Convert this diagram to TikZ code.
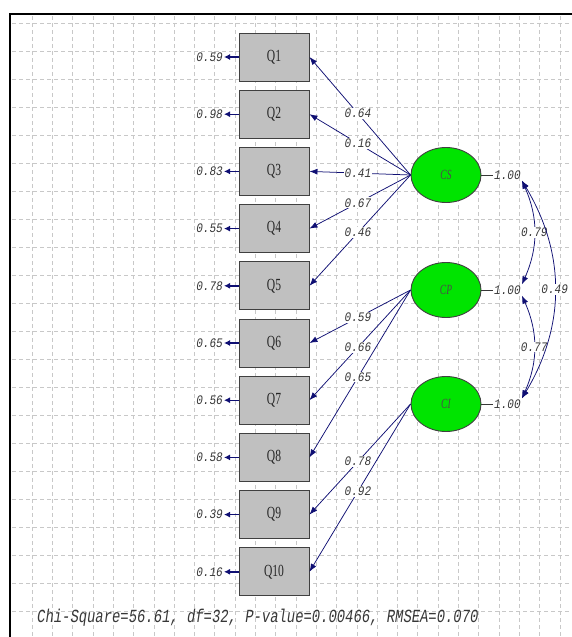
\documentclass[tikz,border=0pt]{standalone}
\usepackage{fontspec}
\newfontfamily\lisfont[FakeStretch=0.85]{Liberation Mono}
\newfontfamily\chifont[FakeStretch=0.75]{Liberation Mono}
\newfontfamily\qfont[FakeStretch=0.68]{Liberation Serif}
\usepackage{tikz}
\usetikzlibrary{arrows.meta,shapes.geometric}

\definecolor{semnavy}{RGB}{15,15,115}
\definecolor{semgreen}{RGB}{0,228,0}
\definecolor{sembox}{RGB}{192,192,192}
\definecolor{semgrid}{RGB}{200,200,200}
\definecolor{semtext}{RGB}{55,55,55}

\tikzset{
  gridline/.style={draw=semgrid, line width=0.6pt, dash pattern=on 4pt off 3pt},
  obsbox/.style={draw=black!75, fill=sembox, line width=0.9pt,
    minimum width=70pt, minimum height=48pt, inner sep=0pt,
    font=\qfont\fontsize{17}{17}\selectfont, text=black!85},
  latent/.style={ellipse, draw=black!75, fill=semgreen, line width=0.9pt,
    minimum width=70pt, minimum height=55pt, inner sep=0pt,
    font=\qfont\itshape\fontsize{14}{14}\selectfont, text=black!70},
  valtext/.style={font=\lisfont\itshape\fontsize{13}{13}\selectfont,
    text=semtext, inner sep=1pt},
  onpath/.style={valtext, fill=white},
  loadarrow/.style={draw=semnavy, line width=0.75pt,
    -{Latex[length=8pt, width=6pt]}},
  errarrow/.style={draw=semnavy, line width=1.4pt,
    -{Latex[length=6pt, width=6pt]}},
  corrarrow/.style={draw=semnavy, line width=0.75pt,
    {Latex[length=8pt, width=6pt]}-{Latex[length=8pt, width=6pt]}}
}

\begin{document}
\begin{tikzpicture}[x=1pt,y=-1pt]

\useasboundingbox (0,0) rectangle (572,637);

% grid
\foreach \gy in {0,...,21}
  \draw[gridline] (12,{23+28*\gy}) -- (572,{23+28*\gy});
\foreach \gx in {0,...,26}
  \draw[gridline] ({32+20.3*\gx},16) -- ({32+20.3*\gx},637);

% frame
\draw[line width=2.5pt] (10,637) -- (10,14) -- (572,14);

% observed items and error variances
\foreach \i/\e in {1/0.59,2/0.98,3/0.83,4/0.55,5/0.78,6/0.65,7/0.56,8/0.58,9/0.39,10/0.16}
{
  \node[obsbox] (q\i) at (274,{57+57.2*(\i-1)}) {Q\i};
  \node[valtext, anchor=east] (e\i) at (224,{57+57.2*(\i-1)}) {\e};
  \draw[errarrow] (q\i.west) -- (e\i.east);
}

% latent factors
\node[latent] (cs) at (446,175) {CS};
\node[latent] (cp) at (446,290) {CP};
\node[latent] (ci) at (446,404) {CI};

% loadings
\draw[loadarrow] (cs.west) -- node[onpath, pos=0.52] {0.64} (q1.east);
\draw[loadarrow] (cs.west) -- node[onpath, pos=0.52] {0.16} (q2.east);
\draw[loadarrow] (cs.west) -- node[onpath, pos=0.52] {0.41} (q3.east);
\draw[loadarrow] (cs.west) -- node[onpath, pos=0.52] {0.67} (q4.east);
\draw[loadarrow] (cs.west) -- node[onpath, pos=0.52] {0.46} (q5.east);

\draw[loadarrow] (cp.west) -- node[onpath, pos=0.52] {0.59} (q6.east);
\draw[loadarrow] (cp.west) -- node[onpath, pos=0.52] {0.66} (q7.east);
\draw[loadarrow] (cp.west) -- node[onpath, pos=0.52] {0.65} (q8.east);

\draw[loadarrow] (ci.west) -- node[onpath, pos=0.52] {0.78} (q9.east);
\draw[loadarrow] (ci.west) -- node[onpath, pos=0.52] {0.92} (q10.east);

% factor variances
\node[valtext, anchor=west] (vs) at (493,175) {1.00};
\node[valtext, anchor=west] (vp) at (493,290) {1.00};
\node[valtext, anchor=west] (vi) at (493,404) {1.00};
\draw[semtext, line width=0.6pt] (cs.east) -- (vs.west);
\draw[semtext, line width=0.6pt] (cp.east) -- (vp.west);
\draw[semtext, line width=0.6pt] (ci.east) -- (vi.west);

% factor correlations
\draw[corrarrow] (vs.south east) to[bend left=24] node[onpath] {0.79} (vp.north east);
\draw[corrarrow] (vp.south east) to[bend left=24] node[onpath] {0.77} (vi.north east);
\draw[corrarrow] (vs.south east) to[bend left=31] node[onpath] {0.49} (vi.north east);

% fit statistics
\node[valtext, anchor=west, font=\chifont\itshape\fontsize{18.5}{18.5}\selectfont] (fit) at (36,618)
  {Chi-Square=56.61, df=32, P-value=0.00466, RMSEA=0.070};

\end{tikzpicture}
\end{document}
